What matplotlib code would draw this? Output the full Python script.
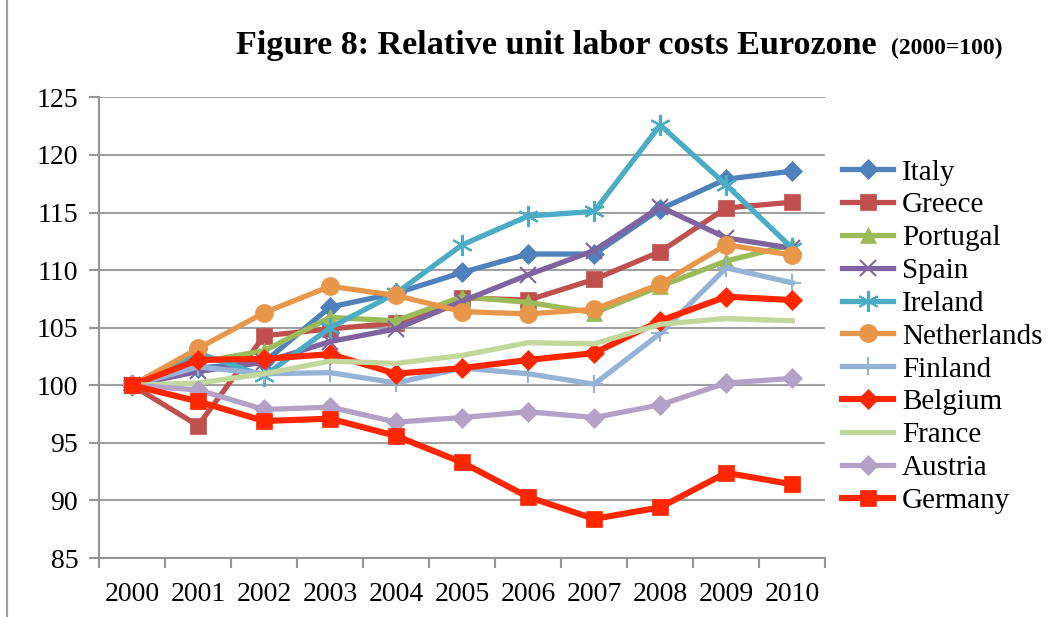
import matplotlib.pyplot as plt
from matplotlib.lines import Line2D

years = ['2000', '2001', '2002', '2003', '2004', '2005',
         '2006', '2007', '2008', '2009', '2010']

italy = [100, 101.5, 102.0, 106.8, 108.0, 109.8, 111.4, 111.4, 115.3, 117.9, 118.6]
greece = [100, 96.5, 104.3, 104.9, 105.4, 107.6, 107.4, 109.2, 111.6, 115.4, 115.9]
portugal = [100, 102.0, 103.0, 105.9, 105.6, 107.7, 107.2, 106.3, 108.6, 110.8, 112.2]
spain = [100, 101.2, 102.0, 103.8, 104.9, 107.3, 109.6, 111.7, 115.5, 112.8, 111.9]
ireland = [100, 102.8, 100.8, 105.0, 108.0, 112.2, 114.7, 115.1, 122.6, 117.4, 111.9]
netherlands = [100, 103.2, 106.3, 108.6, 107.8, 106.4, 106.2, 106.6, 108.8, 112.2, 111.3]
finland = [100, 101.6, 101.0, 101.1, 100.2, 101.5, 101.0, 100.1, 104.5, 110.2, 108.9]
belgium = [100, 102.2, 102.3, 102.7, 101.0, 101.5, 102.2, 102.8, 105.6, 107.7, 107.4]
france = [100, 100.2, 101.0, 102.1, 101.9, 102.6, 103.7, 103.6, 105.3, 105.8, 105.6]
austria = [100, 99.6, 97.9, 98.1, 96.8, 97.2, 97.7, 97.2, 98.3, 100.2, 100.6]
germany = [100, 98.6, 96.9, 97.1, 95.6, 93.3, 90.3, 88.4, 89.4, 92.4, 91.4]

series = [
    ('Italy', italy, '#4F81BD', 'D', 10),
    ('Greece', greece, '#C0504D', 's', 12),
    ('Portugal', portugal, '#9BBB59', '^', 11),
    ('Spain', spain, '#8064A2', 'x', 12),
    ('Ireland', ireland, '#4BACC6', (6, 2, 0), 15),
    ('Netherlands', netherlands, '#E8964A', 'o', 13),
    ('Finland', finland, '#95B3D7', '+', 13),
    ('Belgium', belgium, '#FF2600', 'D', 10),
    ('France', france, '#C3D69B', None, 0),
    ('Austria', austria, '#B3A2C7', 'D', 10),
    ('Germany', germany, '#FF2600', 's', 12),
]

plt.rcParams['font.family'] = ['Liberation Serif', 'DejaVu Serif']

fig = plt.figure(figsize=(10.54, 6.17), dpi=100)
ax = fig.add_axes([0.094, 0.0956, 0.689, 0.7465])

x = list(range(len(years)))
for name, vals, col, mk, ms in series:
    lw = 4.4 if col == '#FF2600' else 3.8
    ax.plot(x, vals, color=col, lw=lw, marker=mk, markersize=ms,
            markeredgewidth=1.5 if mk in ('x', '+', (6, 2, 0)) else 0.5,
            markeredgecolor=col, label=name, solid_joinstyle='miter')

ax.set_ylim(85, 125)
ax.set_yticks(range(85, 126, 5))
ax.set_xlim(-0.5, 10.5)
ax.set_xticks(x)
ax.set_xticklabels(years)
ax.set_xticks([i - 0.5 for i in range(12)], minor=True)
ax.tick_params(axis='x', which='major', length=0, pad=17, labelsize=20)
ax.tick_params(axis='x', which='minor', length=7, color='#969696', width=1.5)
ax.tick_params(axis='y', length=7, color='#969696', width=1.5, labelsize=20, pad=8)

ax.grid(axis='y', color='#A0A0A0', lw=1.5)
ax.set_axisbelow(True)
for s in ['top', 'right']:
    ax.spines[s].set_visible(False)
for s in ['left', 'bottom']:
    ax.spines[s].set_color('#969696')
    ax.spines[s].set_linewidth(1.5)

ax.legend(loc='center left', bbox_to_anchor=(1.023, 0.481), frameon=False,
          fontsize=21, handlelength=1.75, handletextpad=0.3, labelspacing=0.22,
          borderaxespad=0, borderpad=0)

fig.text(0.224, 0.927, 'Figure 8: Relative unit labor costs Eurozone',
         fontsize=24.6, fontweight='bold', ha='left', va='center')
fig.text(0.845, 0.922, '(2000=100)', fontsize=17, fontweight='bold',
         ha='left', va='center')

fig.add_artist(Line2D([0.007, 0.007], [0, 1], color='#A0A0A0', lw=1.5))

fig.savefig('out.png', dpi=100)
